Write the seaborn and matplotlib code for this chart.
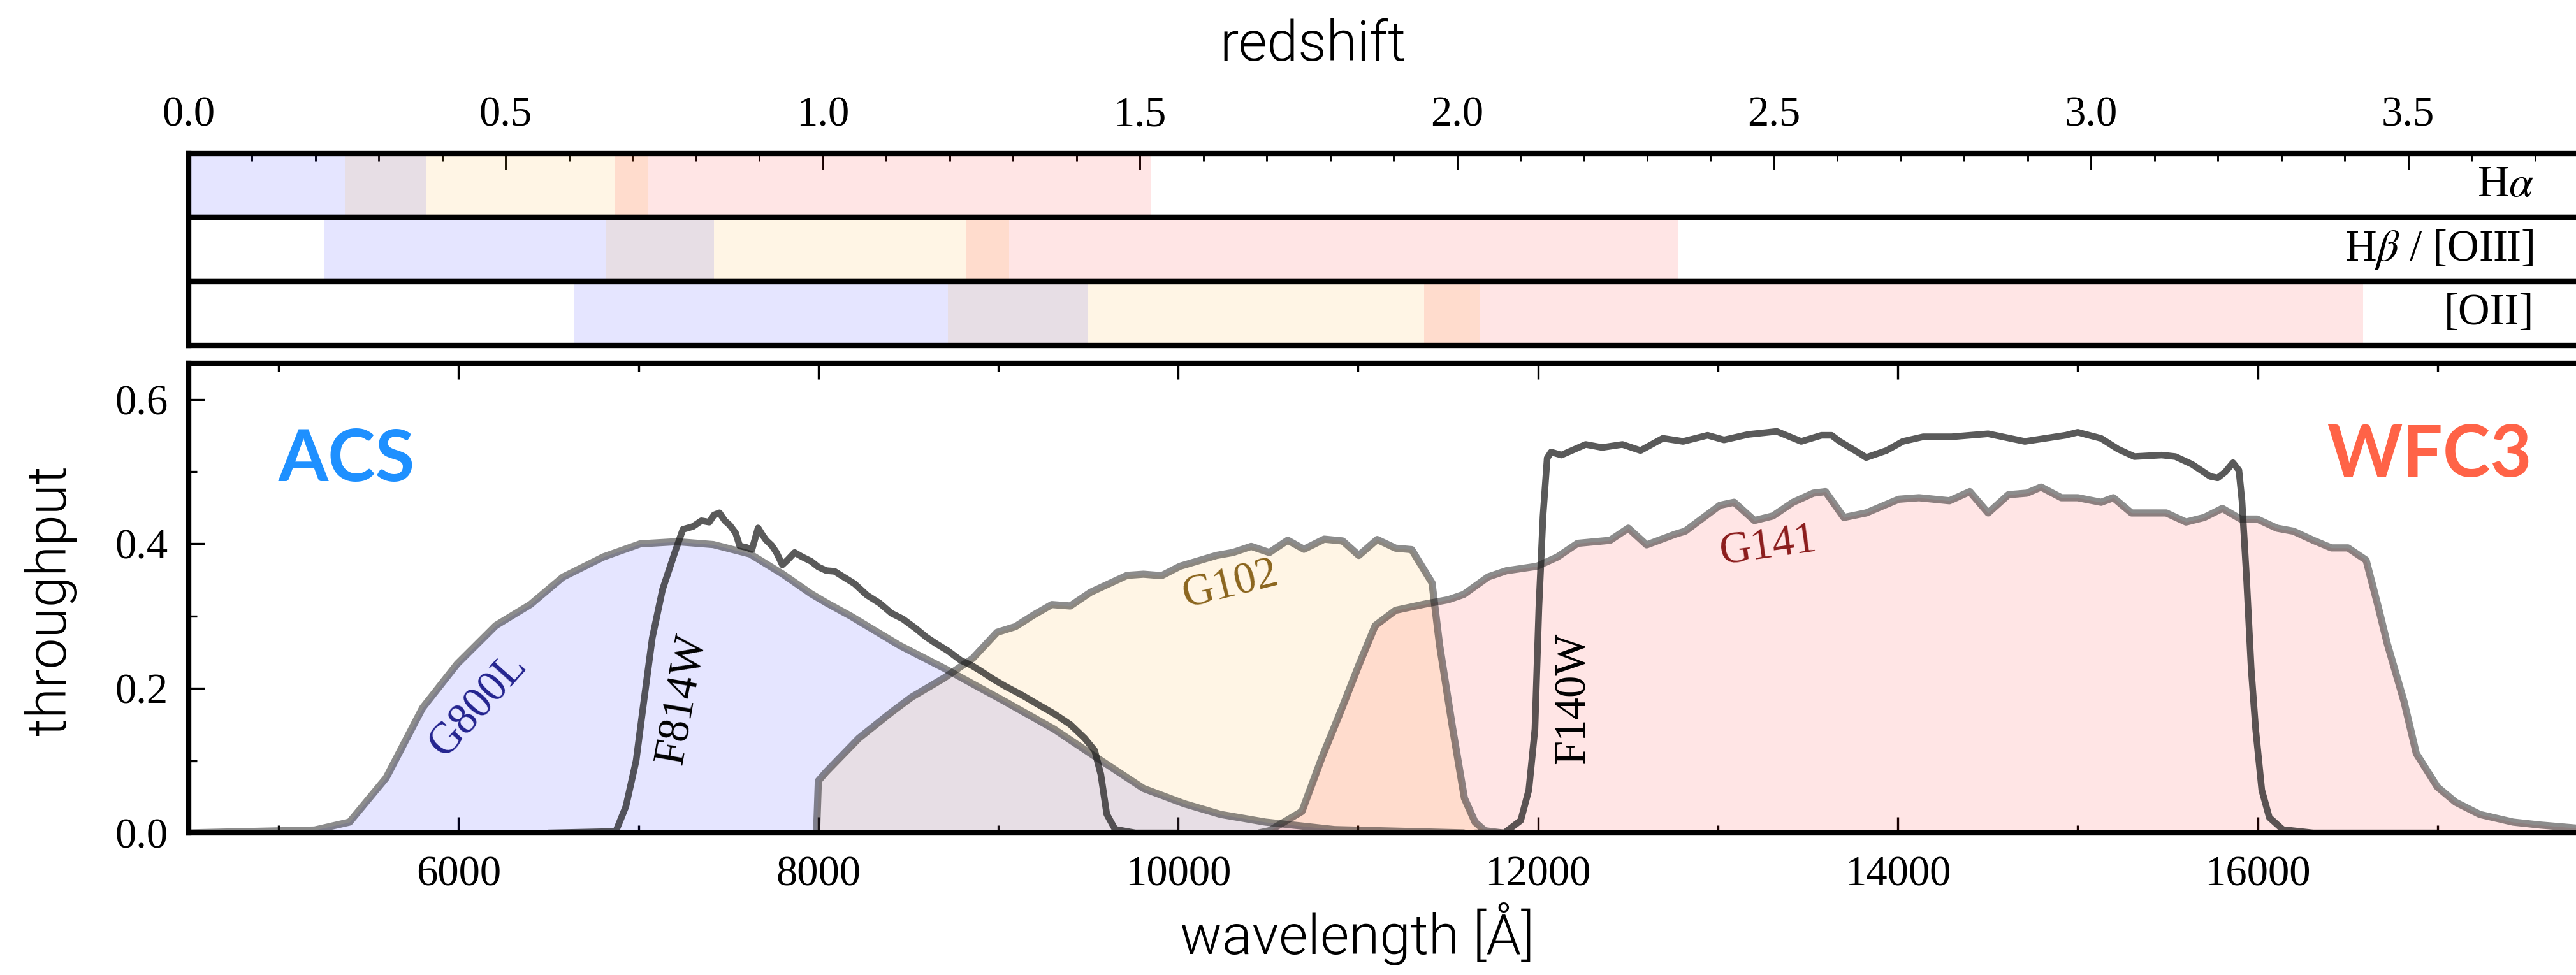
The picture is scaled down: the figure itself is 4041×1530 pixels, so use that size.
import numpy as np
import pandas as pd
import matplotlib
matplotlib.use("Agg")
import matplotlib.pyplot as plt
import seaborn as sns
from matplotlib.ticker import FixedLocator, MultipleLocator

# ---------------- data ----------------
g800l_wave = [4500, 5200, 5394, 5597, 5800, 5993, 6207, 6399, 6580, 6806, 7010, 7213, 7416,
              7620, 7800, 7959, 8044, 8180, 8451, 8700, 9039, 9310, 9536, 9807, 10033,
              10236, 10485, 10869, 11587]
g800l_thru = [0.0, 0.004, 0.015, 0.076, 0.173, 0.234, 0.287, 0.316, 0.354, 0.382, 0.400, 0.403,
              0.399, 0.386, 0.3585, 0.331, 0.3185, 0.300, 0.2595, 0.2277, 0.1816, 0.1436, 0.106,
              0.0615, 0.0404, 0.0256, 0.015, 0.0046, 0.0]

f814w_wave = [6500, 6874, 6930, 6987, 7032, 7077, 7134, 7202, 7247, 7303, 7350, 7394, 7420,
              7450, 7480, 7507, 7540, 7563, 7600, 7631, 7665, 7690, 7710, 7740, 7767, 7800,
              7830, 7868, 7910, 7959, 8000, 8044, 8090, 8135, 8200, 8270, 8340, 8406, 8470,
              8541, 8600, 8654, 8720, 8790, 8850, 8903, 8970, 9039, 9130, 9219, 9310, 9400,
              9480, 9536, 9570, 9603, 9649, 9762, 10000]
f814w_thru = [0.0, 0.002, 0.0365, 0.100, 0.186, 0.270, 0.337, 0.388, 0.420, 0.424, 0.432, 0.430,
              0.440, 0.443, 0.432, 0.426, 0.415, 0.397, 0.395, 0.392, 0.422, 0.412, 0.405, 0.398,
              0.388, 0.371, 0.378, 0.388, 0.382, 0.376, 0.368, 0.363, 0.362, 0.355, 0.345, 0.329,
              0.318, 0.304, 0.296, 0.283, 0.271, 0.262, 0.252, 0.239, 0.232, 0.224, 0.213, 0.203,
              0.191, 0.178, 0.165, 0.150, 0.131, 0.114, 0.081, 0.026, 0.005, 0.0, 0.0]

g102_wave = [7990, 8000, 8044, 8225, 8406, 8519, 8700, 8858, 8993, 9095, 9197, 9298, 9400,
             9513, 9716, 9807, 9908, 10010, 10213, 10304, 10406, 10507, 10609, 10699, 10812,
             10914, 11004, 11106, 11208, 11298, 11411, 11453, 11524, 11591, 11650, 11705, 11800]
g102_thru = [0.0, 0.072, 0.0846, 0.131, 0.167, 0.188, 0.2145, 0.2415, 0.2776, 0.2855, 0.3016,
             0.316, 0.314, 0.333, 0.3564, 0.358, 0.356, 0.369, 0.384, 0.388, 0.3965, 0.388,
             0.405, 0.3925, 0.4065, 0.404, 0.384, 0.406, 0.394, 0.392, 0.346, 0.260, 0.147,
             0.048, 0.015, 0.003, 0.0]

g141_wave = [10450, 10507, 10688, 10801, 10891, 11004, 11095, 11208, 11366, 11501, 11587, 11723,
             11824, 11994, 12107, 12220, 12401, 12502, 12604, 12762, 12818, 13011, 13090, 13203,
             13305, 13418, 13530, 13598, 13700, 13824, 14005, 14118, 14287, 14400, 14502, 14615,
             14717, 14796, 14909, 15000, 15130, 15198, 15299, 15492, 15602, 15703, 15804, 15905,
             15997, 16107, 16199, 16309, 16410, 16502, 16603, 16671, 16721, 16814, 16882, 16999,
             17100, 17235, 17420, 17571, 17770, 18000]
g141_thru = [0.0, 0.003, 0.0298, 0.1057, 0.1605, 0.232, 0.2869, 0.308, 0.3164, 0.3227, 0.330,
             0.3543, 0.3628, 0.369, 0.3817, 0.4007, 0.4049, 0.4217, 0.3986, 0.4133, 0.4175,
             0.4534, 0.4576, 0.4323, 0.4386, 0.4576, 0.4702, 0.4723, 0.4365, 0.4428, 0.4618,
             0.4639, 0.4597, 0.4723, 0.4428, 0.4681, 0.4702, 0.4786, 0.4639, 0.4639, 0.4576,
             0.4639, 0.4428, 0.4428, 0.4302, 0.4365, 0.4491, 0.4344, 0.4344, 0.4217, 0.4175,
             0.4049, 0.3944, 0.3944, 0.3775, 0.3122, 0.2616, 0.1816, 0.1099, 0.0636, 0.0425,
             0.0256, 0.015, 0.0109, 0.0067, 0.004]

f140w_wave = [11650, 11813, 11904, 11949, 11983, 12005, 12028, 12051, 12073, 12130, 12265, 12356,
              12469, 12570, 12694, 12807, 12943, 13034, 13169, 13327, 13463, 13576, 13632, 13677,
              13790, 13824, 13937, 14028, 14141, 14299, 14502, 14706, 14932, 15000, 15130, 15223,
              15315, 15467, 15543, 15635, 15736, 15778, 15821, 15863, 15896, 15913, 15938, 15964,
              15989, 16023, 16065, 16140, 16309, 17000]
f140w_thru = [0.0, 0.0, 0.0172, 0.0593, 0.1436, 0.3122, 0.4386, 0.5187, 0.5271, 0.5229, 0.5376,
              0.5334, 0.5376, 0.5292, 0.5461, 0.5418, 0.5503, 0.5439, 0.5515, 0.5557, 0.5418,
              0.5503, 0.5503, 0.5418, 0.525, 0.5195, 0.5292, 0.5418, 0.5482, 0.5482, 0.5524,
              0.5418, 0.5503, 0.5545, 0.546, 0.5313, 0.5208, 0.5229, 0.5208, 0.5102, 0.4934,
              0.4913, 0.4997, 0.5123, 0.5018, 0.4597, 0.3543, 0.2279, 0.1436, 0.0593, 0.0214,
              0.0046, 0.0, 0.0]

# redshift coverage of each grism, per emission line (z_start, z_end)
line_labels = [r"H$\alpha$", r"H$\beta$ / [OIII]", "[OII]"]
z_g800l = [(-0.09, 0.375), (0.213, 0.828), (0.6075, 1.418)]
z_g102 = [(0.246, 0.724), (0.658, 1.294), (1.197, 2.036)]
z_g141 = [(0.672, 1.517), (1.226, 2.348), (1.948, 3.429)]

grism_names = ["G800L", "G102", "G141"]
grism_fill = ["blue", "orange", "red"]

# ---------------- style ----------------
sns.set_theme(style="ticks")
plt.rcParams["font.family"] = ["Liberation Serif", "DejaVu Serif"]
plt.rcParams["mathtext.fontset"] = "stix"
plt.rcParams["axes.linewidth"] = 2.0
plt.rcParams["axes.edgecolor"] = "black"
plt.rcParams["text.color"] = "black"
plt.rcParams["axes.labelcolor"] = "black"
plt.rcParams["xtick.color"] = "black"
plt.rcParams["ytick.color"] = "black"

W, H, DPI = 4041, 1530, 300
fig = plt.figure(figsize=(W / DPI, H / DPI), dpi=DPI)


def fx(px):
    return px / W


def fy(py):
    return 1 - py / H


LEFT, RIGHT = 296, 4106
TICK_FS = 16
LABEL_FONT = dict(family="Roboto", fontweight=300, fontsize=21, color="black")

# ---------------- main throughput panel ----------------
ax = fig.add_axes([fx(LEFT), fy(1307), (RIGHT - LEFT) / W, (1307 - 570) / H])

grism_curves = [(g800l_wave, g800l_thru), (g102_wave, g102_thru), (g141_wave, g141_thru)]
for (wv, tp), col in zip(grism_curves, grism_fill):
    ax.fill_between(wv, 0, tp, color=col, alpha=0.1, lw=0, zorder=1)

for wv, tp in grism_curves:
    sns.lineplot(x=wv, y=tp, ax=ax, color="k", alpha=0.5, lw=2.7, sort=False,
                 estimator=None, zorder=2)
for wv, tp in [(f814w_wave, f814w_thru), (f140w_wave, f140w_thru)]:
    sns.lineplot(x=wv, y=tp, ax=ax, color="k", alpha=0.72, lw=2.5, sort=False,
                 estimator=None, zorder=2.2)
for ln in ax.lines:
    ln.set_solid_joinstyle("round")
    ln.set_solid_capstyle("round")

ax.set_xlim(4500, 18000)
ax.set_ylim(0, 0.65)
ax.xaxis.set_major_locator(FixedLocator([6000, 8000, 10000, 12000, 14000, 16000]))
ax.xaxis.set_minor_locator(FixedLocator([5000, 7000, 9000, 11000, 13000, 15000, 17000]))
ax.yaxis.set_major_locator(MultipleLocator(0.2))
ax.yaxis.set_minor_locator(MultipleLocator(0.1))
ax.tick_params(which="both", direction="in", top=True, right=True, colors="black")
ax.tick_params(which="major", length=6, width=0.8, labelsize=TICK_FS)
ax.tick_params(which="minor", length=3, width=0.8)
ax.tick_params(axis="x", which="major", pad=8.4)
ax.tick_params(axis="y", which="major", pad=7.7)

ax.set_xlabel("wavelength [Å]", **LABEL_FONT)
ax.xaxis.set_label_coords(fx(2129), fy(1497), transform=fig.transFigure)
ax.xaxis.label.set_va("baseline")
ax.set_ylabel("throughput", **LABEL_FONT)
ax.yaxis.set_label_coords(fx(121), fy(942), transform=fig.transFigure)

ax.text(5000, 0.487, "ACS", family="Lato", fontweight="bold", fontsize=27,
        color="dodgerblue", ha="left", va="baseline")
ax.text(16385, 0.493, "WFC3", family="Lato", fontweight="bold", fontsize=27,
        color="tomato", ha="left", va="baseline")

curve_labels = [
    ("G800L", 6110, 0.176, 48, "#23238f"),
    ("F814W", 7244, 0.185, 80, "black"),
    ("G102", 10291, 0.342, 14, "#8b651e"),
    ("G141", 13277, 0.396, 8, "#8b1c1c"),
    ("F140W", 12197, 0.186, 90, "black"),
]
for txt, x, y, rot, col in curve_labels:
    ax.text(x, y, txt, rotation=rot, rotation_mode="anchor", ha="center", va="center",
            color=col, fontsize=16.5)

# ---------------- redshift coverage panels ----------------
row_edges = [(241, 341), (341, 442), (442, 542)]
for i, (top, bot) in enumerate(row_edges):
    rax = fig.add_axes([fx(LEFT), fy(bot), (RIGHT - LEFT) / W, (bot - top) / H])
    for zr, col in zip([z_g800l[i], z_g102[i], z_g141[i]], grism_fill):
        rax.axvspan(zr[0], zr[1], color=col, alpha=0.1, lw=0)
    rax.set_xlim(0, 3.83)
    rax.set_ylim(0, 1)
    rax.set_yticks([])
    if i == 0:
        rax.xaxis.tick_top()
        rax.xaxis.set_major_locator(MultipleLocator(0.5))
        rax.xaxis.set_minor_locator(MultipleLocator(0.1))
        rax.tick_params(which="both", direction="in", colors="black")
        rax.tick_params(which="major", length=6, width=0.7, labelsize=TICK_FS, pad=7)
        rax.tick_params(which="minor", length=2.8, width=0.7)
    else:
        rax.set_xticks([])
    fig.text(fx(3975), fy((top + bot) / 2), line_labels[i], ha="right", va="center",
             fontsize=16.5, color="black")

fig.text(fx(2060), fy(95), "redshift", ha="center", va="baseline", **LABEL_FONT)

fig.savefig("out.png", dpi=DPI)
